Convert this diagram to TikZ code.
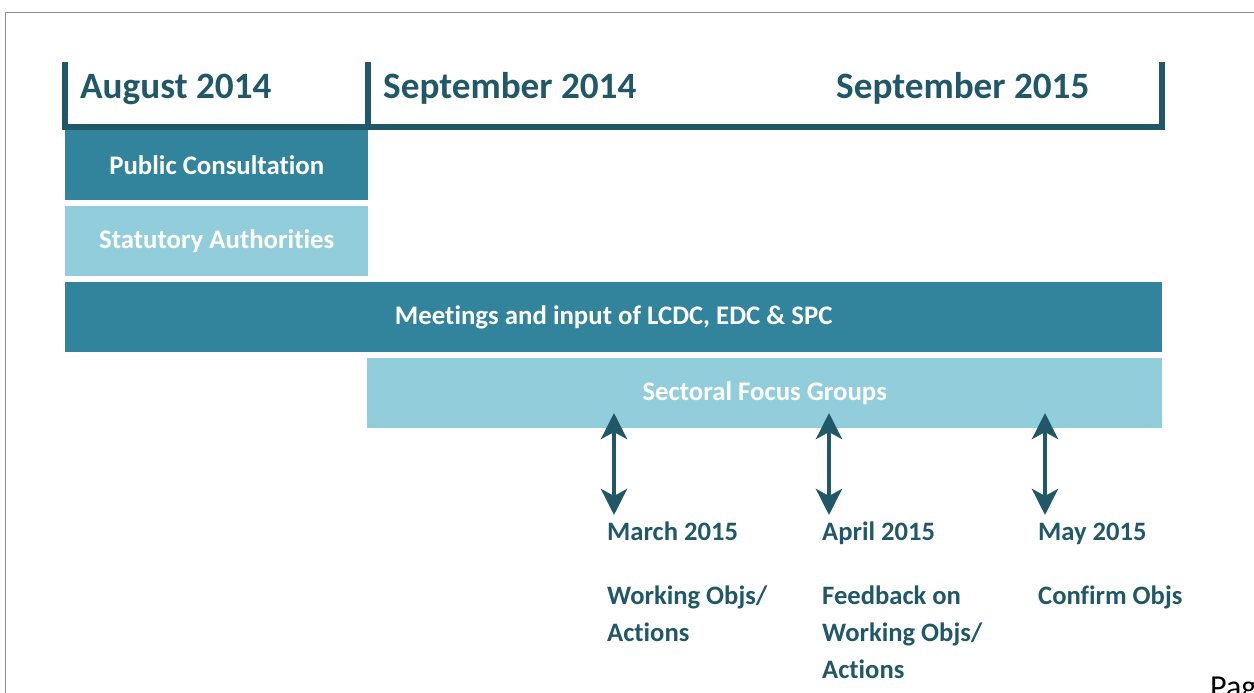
\documentclass[tikz,border=0pt]{standalone}
\usepackage{fontspec}
\setmainfont{Carlito}[Ligatures={NoCommon,NoContextual}]
\usetikzlibrary{arrows.meta}
\definecolor{darkteal}{HTML}{215868}
\definecolor{midteal}{HTML}{31849B}
\definecolor{lightteal}{HTML}{92CDDC}

\begin{document}
\begin{tikzpicture}[x=1pt,y=-1pt]
\tikzstyle{band}=[anchor=north west, inner sep=0pt, minimum height=70pt, text=white, font=\fontsize{26.8}{32}\selectfont\bfseries]
\tikzstyle{month}=[anchor=base west, inner sep=0pt, text=darkteal, font=\fontsize{37.2}{44}\selectfont\bfseries]
\tikzstyle{note}=[anchor=base west, inner sep=0pt, align=left, text=darkteal, font=\fontsize{26.6}{37}\selectfont\bfseries]
\tikzstyle{link}=[darkteal, line width=4.5pt, >={Stealth[length=26pt,width=26pt,inset=7pt]}, <->]

\useasboundingbox (0,0) rectangle (1254,693);
\draw[black!45, line width=1.5pt] (5.5,693) -- (5.5,12.5) -- (1254,12.5);

% time line
\draw[darkteal, line width=6pt] (65,62) -- (65,127) -- (1162,127) -- (1162,62);
\draw[darkteal, line width=6pt] (368,62) -- (368,127);
\node[month] (aug) at (80,99) {August 2014};
\node[month] (sep14) at (383,99) {September 2014};
\node[month] (sep15) at (836,99) {September 2015};

\node[band, fill=midteal, minimum width=303pt] (pc) at (65,130) {Public Consultation};
\node[band, fill=lightteal, minimum width=303pt] (sa) at (65,206) {Statutory Authorities};
\node[band, fill=midteal, minimum width=1097pt] (mtg) at (65,282) {Meetings and input of LCDC, EDC \& SPC};
\node[band, fill=lightteal, minimum width=795pt] (sfg) at (367,358) {Sectoral Focus Groups};

\foreach \n/\x/\m in {mar/607/March, apr/822/April, may/1038/May} {
\node[note] (\n) at (\x,540) {\m\ 2015};
\coordinate (\n top) at (\x+7,413);
\coordinate (\n bot) at (\x+7,515);
\draw[link] (\n top) -- (\n bot);
}
% base of a node with lines is the base of its last line
\node[note] (marnote) at (607,641) {Working Objs/\\Actions};
\node[note] (aprnote) at (822,678) {Feedback on\\Working Objs/\\Actions};
\node[note] (maynote) at (1038,604) {Confirm Objs};

\node[anchor=base west, inner sep=0pt, font=\fontsize{32}{38}\selectfont] (pg) at (1210,697) {Page};
\end{tikzpicture}
\end{document}
